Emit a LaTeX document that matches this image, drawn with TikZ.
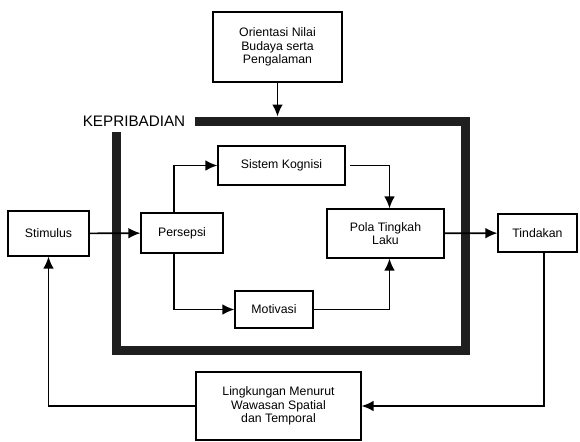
\documentclass[tikz,border=0pt]{standalone}
\usepackage{fontspec}
\setmainfont{Liberation Sans}
\usetikzlibrary{arrows.meta}
\begin{document}
\begin{tikzpicture}[x=0.03cm, y=-0.03cm,
  box/.style={draw, rectangle, line width=1pt, align=center,
    font=\fontsize{10.5}{11.5}\selectfont},
  link/.style={-{Latex[length=3.6mm,width=3.2mm]}, line width=1.4pt}]
\useasboundingbox (0,0) rectangle (580,441);

% frame of the personality
\draw[line width=0.27cm, black!88, line join=miter] (116,132) -- (116,350) -- (465,350) -- (465,121) -- (195,121);
\node[font=\fontsize{13}{14}\selectfont] (kep) at (134,121) {KEPRIBADIAN};
\coordinate (ktop) at (277.5,116.5);

\node[box, minimum width=3.87cm, minimum height=2.1cm] (ori) at (277.5,47) {Orientasi Nilai\\Budaya serta\\Pengalaman};
\node[box, minimum width=2.43cm, minimum height=1.35cm] (stim) at (48.5,233.5) {Stimulus};
\node[box, minimum width=2.46cm, minimum height=1.2cm] (pers) at (182,233) {Persepsi};
\node[box, minimum width=3.81cm, minimum height=1.17cm] (kog) at (281.5,165.5) {Sistem Kognisi};
\node[box, minimum width=2.34cm, minimum height=1.11cm] (mot) at (274,309.5) {Motivasi};
\node[box, minimum width=3.51cm, minimum height=1.47cm] (pola) at (385.5,233.5) {Pola Tingkah\\Laku};
\node[box, minimum width=2.37cm, minimum height=1.14cm] (tin) at (537.5,233) {Tindakan};
\node[box, minimum width=4.95cm, minimum height=2.04cm] (ling) at (278.5,406) {Lingkungan Menurut\\Wawasan Spatial\\dan Temporal};

\draw[link] (ori) -- (ktop);
\draw[link] (stim) -- (pers);
\draw[link] ([xshift=-0.24cm]pers.north) |- (kog);
\draw[link] ([xshift=-0.24cm]pers.south) |- (mot);
\draw[link] ([xshift=0.12cm]kog.east) -| ([xshift=0.12cm]pola.north);
\draw[link] (mot) -| ([xshift=0.12cm]pola.south);
\draw[link] (pola) -- (tin);
\draw[link] ([xshift=0.2cm]tin.south) |- (ling);
\draw[link] (ling) -| (stim);
\end{tikzpicture}
\end{document}
